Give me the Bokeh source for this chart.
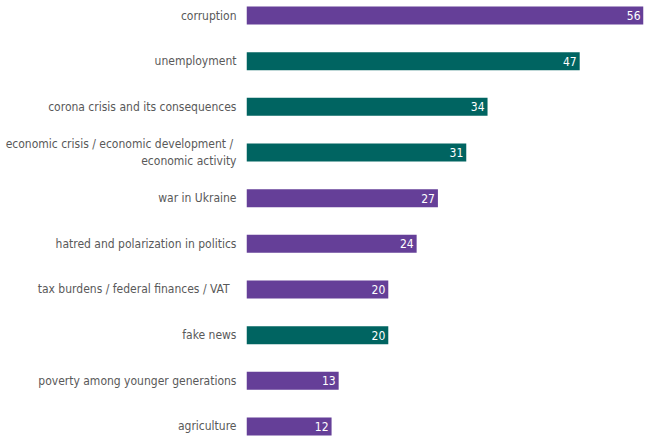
from bokeh.plotting import figure
from bokeh.models import ColumnDataSource, Range1d, FixedTicker
from bokeh.embed import file_html
from bokeh.resources import INLINE

categories = [
    "corruption",
    "unemployment",
    "corona crisis and its consequences",
    "economic crisis /  economic development /\neconomic activity",
    "war in Ukraine",
    "hatred and polarization in politics",
    "tax burdens /  federal finances /  VAT",
    "fake news",
    "poverty among younger generations",
    "agriculture",
]
values = [56, 47, 34, 31, 27, 24, 20, 20, 13, 12]
groups = ["purple", "teal", "teal", "teal", "purple", "purple", "purple", "teal", "purple", "purple"]

PURPLE = "#653F98"
TEAL = "#006461"
colors = [PURPLE if g == "purple" else TEAL for g in groups]

pos = list(range(len(categories)))
src = ColumnDataSource(dict(y=pos, v=values, c=colors, lab=[str(v) for v in values]))

FONT = "'DejaVu Sans Condensed', 'Roboto Condensed', 'Liberation Sans Narrow', Roboto, sans-serif"

p = figure(width=651, height=439, output_backend="svg", toolbar_location=None,
           x_range=Range1d(0, 56), y_range=Range1d(9.285, -0.3285),
           min_border_left=246, min_border_right=8, min_border_top=0, min_border_bottom=0)
p.outline_line_color = None
p.grid.visible = False
p.xaxis.visible = False
p.background_fill_color = "white"

p.hbar(y="y", left=0, right="v", height=0.394, color="c", line_color=None, source=src)
p.text(x="v", y="y", text="lab", source=src, text_align="right", text_baseline="middle",
       x_offset=-3, text_color="white", text_font_size="12px", text_font={"value": FONT})

ax = p.yaxis[0]
ax.ticker = FixedTicker(ticks=pos)
ax.major_label_overrides = {i: c for i, c in enumerate(categories)}
ax.axis_line_color = None
ax.major_tick_line_color = None
ax.minor_tick_line_color = None
ax.major_tick_in = 0
ax.major_tick_out = 0
ax.minor_tick_in = 0
ax.minor_tick_out = 0
ax.major_label_text_font = FONT
ax.major_label_text_font_size = "12px"
ax.major_label_text_color = "#595959"
ax.major_label_standoff = 10

open("out.html", "w").write(file_html(p, INLINE))
